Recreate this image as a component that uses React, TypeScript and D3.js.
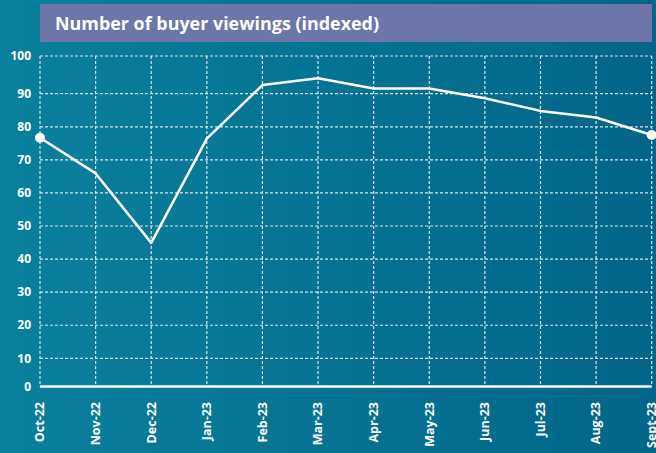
import React from "react";
import * as d3 from "d3";

const title = "Number of buyer viewings (indexed)";
const months = ["Oct-22","Nov-22","Dec-22","Jan-23","Feb-23","Mar-23","Apr-23","May-23","Jun-23","Jul-23","Aug-23","Sept-23"];
const viewings = [76.7, 65.9, 44.9, 76.4, 92.3, 94.1, 91.4, 91.4, 88.6, 84.8, 82.8, 77.5];
const yTicks = [0, 10, 20, 30, 40, 50, 60, 70, 80, 90, 100];
// axis breakpoints of the (slightly uneven) value axis
const yDomain = [0, 10, 90, 100];

const W = 656, H = 453;

export default function App() {
  const x = d3.scalePoint<string>().domain(months).range([40, 651.7]);
  const y = d3.scaleLinear().domain(yDomain).range([386.5, 358.3, 93.7, 56]);
  const line = d3.line<number>().x((_, i) => x(months[i])!).y((d) => y(d));
  const font = "'Open Sans', 'Noto Sans', sans-serif";
  return (
    <svg width={W} height={H} style={{ position: "absolute", left: 0, top: 0 }}>
      <defs>
        <linearGradient id="bg" x1="0" x2="1" y1="0" y2="0">
          <stop offset="0" stopColor="#0a809d" />
          <stop offset="1" stopColor="#016689" />
        </linearGradient>
      </defs>
      <rect width={W} height={H} fill="url(#bg)" />
      <rect x={40} y={4} width={612} height={38} fill="#6c76a8" />
      <text x={55} y={30} fill="#fff" fontFamily={font} fontWeight={700} fontSize={18} textLength={324} lengthAdjust="spacingAndGlyphs">{title}</text>
      {yTicks.filter((t) => t > 0).map((t) => (
        <line key={"h" + t} x1={40} x2={651.7} y1={y(t)} y2={y(t)} stroke="#d8e6ee" strokeWidth={1.2} strokeDasharray="3,2" />
      ))}
      {months.map((m) => (
        <line key={"v" + m} x1={x(m)} x2={x(m)} y1={y(100)} y2={y(0)} stroke="#d8e6ee" strokeWidth={1.2} strokeDasharray="3,2" />
      ))}
      <line x1={40} x2={651.7} y1={y(0)} y2={y(0)} stroke="#fff" strokeWidth={2.5} />
      {yTicks.map((t) => (
        <text key={"yl" + t} x={31} y={y(t)} dy="0.35em" textAnchor="end" fill="#fff" fontFamily={font} fontWeight={700} fontSize={12}>{t}</text>
      ))}
      {months.map((m) => (
        <text key={"xl" + m} transform={`translate(${x(m)},402) rotate(-90)`} dy="0.35em" textAnchor="end" fill="#fff" fontFamily={font} fontWeight={700} fontSize={12.5}>{m}</text>
      ))}
      <path d={line(viewings)!} fill="none" stroke="#fff" strokeWidth={2.5} strokeLinejoin="round" />
      {[0, viewings.length - 1].map((i) => (
        <circle key={"c" + i} cx={x(months[i])} cy={y(viewings[i])} r={5} fill="#fff" />
      ))}
    </svg>
  );
}
